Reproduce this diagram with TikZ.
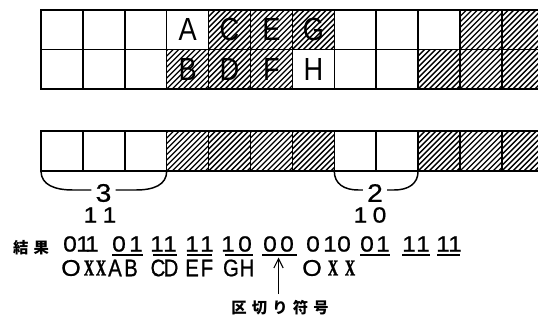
\documentclass[tikz,border=0pt]{standalone}
\usepackage{fontspec}
\setmainfont{Liberation Sans}
\newfontfamily\cond[FakeStretch=0.85]{Liberation Sans}
\newfontfamily\heavy[FakeBold=0.7,FakeStretch=1.12]{Liberation Sans}
\newfontfamily\condheavy[FakeStretch=0.85,FakeBold=0.7]{Liberation Sans}
\newfontfamily\batsu[FakeStretch=0.62,FakeBold=1.5]{Liberation Serif}
\newfontfamily\jpfont{Noto Sans CJK JP}
\usetikzlibrary{arrows.meta}
\newcommand\hatchcell[3]{%
  \begin{scope}
    \clip ({41+41.9*#1},#2) rectangle ({41+41.9*(#1+1)},#3);
    \foreach \k in {-55,-49.5,...,55}
      \draw[hatchline] ({41+41.9*#1+\k},#3) -- ++(50,-50);
  \end{scope}}
\begin{document}
\begin{tikzpicture}[x=0.75pt,y=-0.75pt,
  outerline/.style={line width=1.6pt},
  innerline/.style={line width=1.1pt},
  hatchline/.style={line width=1.0pt},
  braceline/.style={line width=1.1pt},
  gridlet/.style={font=\cond\fontsize{24}{24}\selectfont, inner sep=0pt},
  dig/.style={font=\heavy\fontsize{16.5}{17}\selectfont, inner sep=0pt},
  let/.style={font=\condheavy\fontsize{18}{18}\selectfont, inner sep=0pt},
  roundO/.style={font=\heavy\fontsize{17}{17}\selectfont, inner sep=0pt},
  bx/.style={font=\batsu\bfseries\fontsize{17}{17}\selectfont, inner sep=0pt},
  bracelbl/.style={font=\heavy\fontsize{19}{19}\selectfont, inner xsep=3pt, inner ysep=0pt},
  cnt/.style={font=\heavy\fontsize{16.5}{17}\selectfont, inner sep=0pt},
  jp/.style={font=\jpfont\bfseries\fontsize{11.5}{12}\selectfont, inner sep=0pt},
  uline/.style={line width=0.8pt},
  sepline/.style={line width=1.9pt},
  arr/.style={line width=0.8pt, -{Straight Barb[length=7pt,width=7pt]}}]
\useasboundingbox (0,0) rectangle (538,320);
\clip (0,0) rectangle (538,320);

% ---- top grid ----
\foreach \c in {4,5,6,10,11} {\hatchcell{\c}{10}{49.5}}
\foreach \c in {3,4,5,9,10,11} {\hatchcell{\c}{49.5}{89}}
\foreach \i in {1,...,12} \draw[innerline] ({41+41.9*\i},10) -- ({41+41.9*\i},89);
\draw[innerline] (41,49.5) -- (545,49.5);
\draw[outerline] (41,10) rectangle (545,89);

\node[gridlet] (lA) at ({41+41.9*3.5},29.8) {A};
\node[gridlet] (lC) at ({41+41.9*4.5},29.8) {C};
\node[gridlet] (lE) at ({41+41.9*5.5},29.8) {E};
\node[gridlet] (lG) at ({41+41.9*6.5},29.8) {G};
\node[gridlet] (lB) at ({41+41.9*3.5},69.3) {B};
\node[gridlet] (lD) at ({41+41.9*4.5},69.3) {D};
\node[gridlet] (lF) at ({41+41.9*5.5},69.3) {F};
\node[gridlet] (lH) at ({41+41.9*6.5},69.3) {H};

% ---- strip ----
\foreach \c in {3,4,5,6,9,10,11} {\hatchcell{\c}{131}{171}}
\foreach \i in {1,...,12} \draw[innerline] ({41+41.9*\i},131) -- ({41+41.9*\i},171);
\draw[outerline] (41,131) rectangle (545,171);

% ---- braces ----
\coordinate (b1L) at (41,171);
\coordinate (b1R) at ({41+41.9*3},171);
\coordinate (b2L) at ({41+41.9*7},171);
\coordinate (b2R) at ({41+41.9*9},171);
\coordinate (ybr) at (0,190);
\node[bracelbl] (n3) at (103.5,193) {3};
\node[bracelbl] (n2) at (375,193) {2};
\draw[braceline] (b1L) .. controls +(0,14) and +(-18,0) .. ++(32,19) -- (n3.west |- ybr);
\draw[braceline] (b1R) .. controls +(0,14) and +(18,0) .. ++(-31,19) -- (n3.east |- ybr);
\draw[braceline] (b2L) .. controls +(0,13) and +(-14,0) .. ++(24,19) -- (n2.west |- ybr);
\draw[braceline] (b2R) .. controls +(0,13) and +(14,0) .. ++(-24,19) -- (n2.east |- ybr);
\node[cnt] (c11) at (100,215) {1\kern4pt1};
\node[cnt] (c10) at (370,215) {1\kern4pt0};

% ---- result ----
\node[jp] (kekka) at (31,248) {結\kern3.9pt果};
\foreach \x/\t [count=\n] in {70/0,83/1,92/1,119/0,136/1,157/1,170/1,192/1,207/1,228/1,245/0,270/0,287/0,313/0,330/1,344/0,367/0,383/1,409/1,423/1,443/1,455/1}
  \node[dig] (d\n) at (\x,244) {\t};
\foreach \a/\b in {112/143,153/177,187/212,225/253,360/390,402/430,437/460}
  \draw[uline] (\a,255) -- (\b,255);
\coordinate (sepL) at (262,255);
\coordinate (sepR) at (297,255);
\draw[sepline] (sepL) -- (sepR);

\node[roundO] (r1) at (71,268) {O};
\node[bx] (r2) at (89,268) {X};
\node[bx] (r3) at (101,268) {X};
\node[let] (r4) at (115,268) {A};
\node[let] (r5) at (131,268) {B};
\node[let] (r6) at (158,268) {C};
\node[let] (r7) at (171,268) {D};
\node[let] (r8) at (192,268) {E};
\node[let] (r9) at (207,268) {F};
\node[let] (r10) at (231,268) {G};
\node[let] (r11) at (247,268) {H};
\node[roundO] (r12) at (312,268) {O};
\node[bx] (r13) at (333,268) {X};
\node[bx] (r14) at (350,268) {X};

\node[jp] (sep) at (280,308) {区\kern3.9pt切\kern3.9ptり\kern3.9pt符\kern3.9pt号};
\coordinate (arrtip) at (278.5,257.5);
\coordinate (arrbot) at (278.5,294);
\draw[arr] (arrbot) -- (arrtip);
\end{tikzpicture}
\end{document}
